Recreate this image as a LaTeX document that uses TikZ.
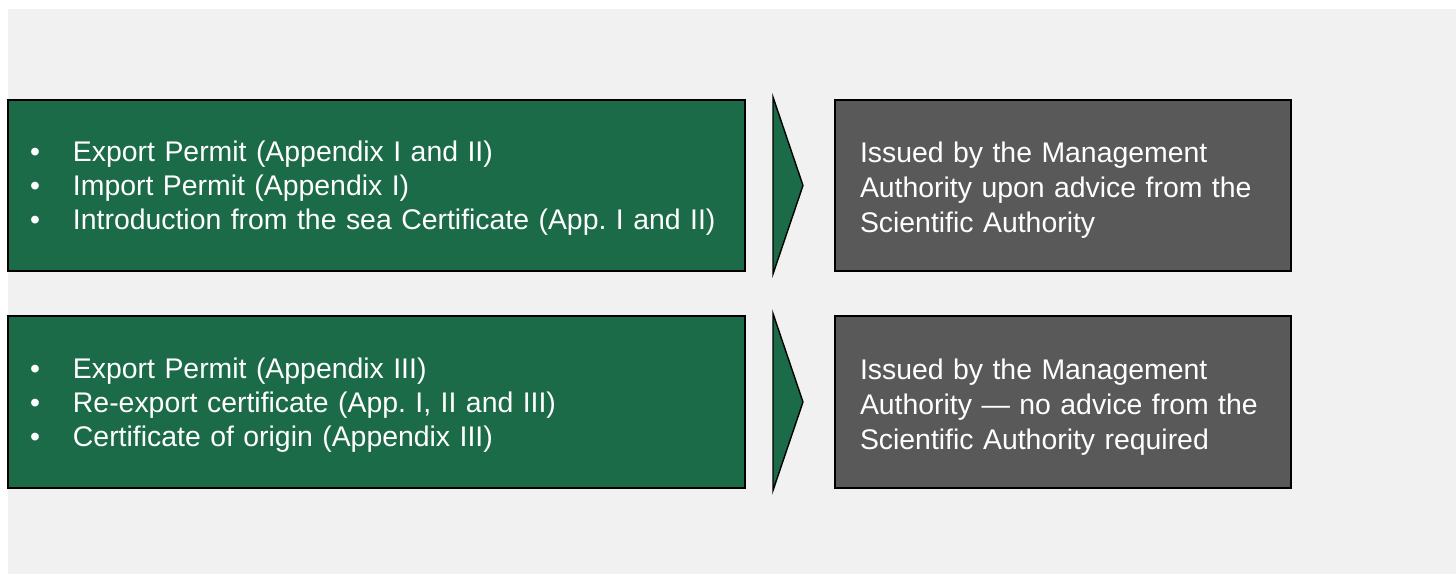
\documentclass[tikz,border=0pt]{standalone}
\usepackage{fontspec}
\setmainfont{Liberation Sans}
\frenchspacing
\definecolor{bgGray}{HTML}{F1F1F1}
\definecolor{boxGreen}{HTML}{1B6B48}
\definecolor{boxGray}{HTML}{595959}
\tikzset{
  greenbox/.style={draw=black, line width=0.8pt, fill=boxGreen, text=white,
    minimum width=368.5pt, minimum height=85.5pt, text width=346.5pt,
    inner xsep=11pt, inner ysep=0pt, align=left,
    font=\fontsize{14.2pt}{17pt}\selectfont},
  graybox/.style={draw=black, line width=0.8pt, fill=boxGray, text=white,
    minimum width=228pt, minimum height=85.5pt, text width=203pt,
    inner xsep=12.5pt, inner ysep=0pt, align=left,
    font=\fontsize{14.2pt}{17.5pt}\selectfont},
  chev/.style={draw=black, line width=0.7pt, fill=boxGreen, line join=miter}
}
\newcommand{\bul}{\makebox[21.5pt][l]{•}}
\newcommand{\gup}{\rule{0pt}{13.4pt}}
\newcommand{\rup}{\rule{0pt}{15.4pt}}
\begin{document}
\begin{tikzpicture}[x=0.5pt,y=-0.5pt]
\useasboundingbox (0,0) rectangle (1456,574);
\fill[white] (0,0) rectangle (1456,574);
\fill[bgGray] (8,9) rectangle (1456,574);

\node[greenbox] (g1) at (376.5,185.5) {\gup\bul Export Permit (Appendix I and II)\\
\bul Import Permit (Appendix I)\\
\bul Introduction from the sea Certificate (App. I and II)};
\node[greenbox, minimum height=86pt] (g2) at (376.5,402) {\gup\bul Export Permit (Appendix III)\\
\bul Re-export certificate (App. I, II and III)\\
\bul Certificate of origin (Appendix III)};

\node[graybox] (r1) at (1063,185.5) {\rup Issued by the Management\\Authority upon advice from the\\Scientific Authority};
\node[graybox, minimum height=86pt] (r2) at (1063,402) {\rup Issued by the Management\\Authority — no advice from the\\Scientific Authority required};

\draw[chev] (773,97) -- (803,185.5) -- (773,274) -- cycle;
\draw[chev] (773,313.5) -- (803,402) -- (773,490.5) -- cycle;
\end{tikzpicture}
\end{document}
